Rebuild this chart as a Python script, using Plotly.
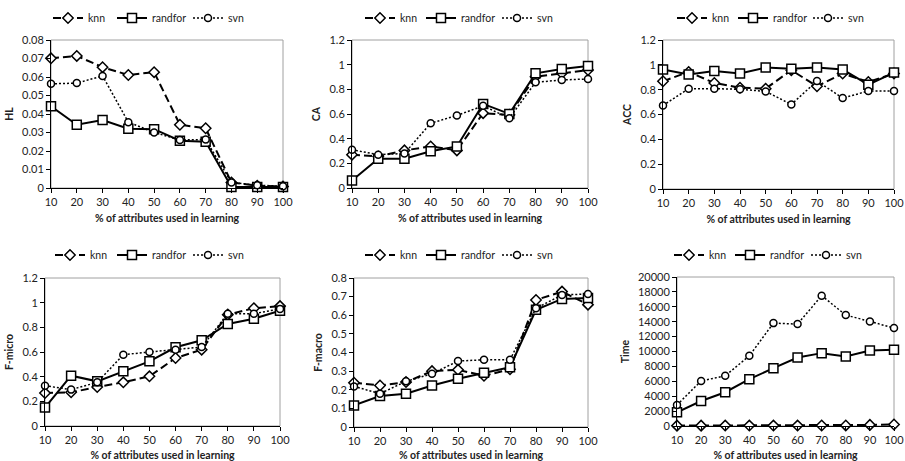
import plotly.graph_objects as go

pct = [10, 20, 30, 40, 50, 60, 70, 80, 90, 100]

hl_knn = [0.0701, 0.0714, 0.0653, 0.0611, 0.0626, 0.0342, 0.0323, 0.003, 0.0012, 0.0008]
hl_randfor = [0.0442, 0.0342, 0.0367, 0.0320, 0.0318, 0.0256, 0.0250, 0.0006, 0.0005, 0.0005]
hl_svn = [0.0563, 0.0567, 0.0606, 0.0356, 0.0300, 0.0260, 0.0262, 0.0030, 0.0015, 0.0010]

ca_knn = [0.27, 0.256, 0.305, 0.337, 0.305, 0.607, 0.593, 0.903, 0.93, 0.957]
ca_randfor = [0.06, 0.237, 0.237, 0.298, 0.337, 0.682, 0.601, 0.93, 0.965, 0.989]
ca_svn = [0.31, 0.27, 0.28, 0.525, 0.588, 0.666, 0.566, 0.857, 0.876, 0.884]

acc_knn = [0.868, 0.943, 0.854, 0.816, 0.808, 0.957, 0.827, 0.93, 0.862, 0.93]
acc_randfor = [0.962, 0.922, 0.951, 0.93, 0.978, 0.968, 0.978, 0.962, 0.84, 0.938]
acc_svn = [0.673, 0.808, 0.808, 0.803, 0.786, 0.681, 0.87, 0.732, 0.789, 0.789]

fmi_knn = [0.267, 0.273, 0.316, 0.354, 0.403, 0.551, 0.619, 0.903, 0.955, 0.972]
fmi_randfor = [0.15, 0.408, 0.362, 0.443, 0.524, 0.638, 0.695, 0.827, 0.87, 0.935]
fmi_svn = [0.327, 0.295, 0.354, 0.578, 0.6, 0.619, 0.64, 0.911, 0.911, 0.949]

fma_knn = [0.2375, 0.223, 0.241, 0.30, 0.307, 0.275, 0.31, 0.682, 0.727, 0.657]
fma_randfor = [0.116, 0.166, 0.179, 0.223, 0.259, 0.291, 0.321, 0.629, 0.6875, 0.693]
fma_svn = [0.218, 0.179, 0.245, 0.286, 0.354, 0.361, 0.361, 0.6375, 0.709, 0.714]

time_knn = [50, 50, 60, 60, 60, 60, 70, 80, 150, 200]
time_randfor = [1840, 3360, 4530, 6280, 7760, 9190, 9780, 9330, 10130, 10220]
time_svn = [2830, 6050, 6730, 9420, 13810, 13680, 17490, 14890, 14040, 13140]

panels = [
    ("HL", hl_knn, hl_randfor, hl_svn, [0, 0.08], 0.01),
    ("CA", ca_knn, ca_randfor, ca_svn, [0, 1.2], 0.2),
    ("ACC", acc_knn, acc_randfor, acc_svn, [0, 1.2], 0.2),
    ("F-micro", fmi_knn, fmi_randfor, fmi_svn, [0, 1.2], 0.2),
    ("F-macro", fma_knn, fma_randfor, fma_svn, [0, 0.8], 0.1),
    ("Time", time_knn, time_randfor, time_svn, [0, 20000], 2000),
]

W, H = 905, 461
# plot-area pixel boxes (left, right, top, bottom)
boxes = [
    (51, 283, 40, 188),
    (352, 588, 40, 188),
    (663, 894, 40, 189),
    (45, 280, 278, 426),
    (354, 588, 278, 427),
    (677, 894, 277, 426),
]
# legend entry line-start x positions per panel, and legend row y
legend_x = [
    (53, 117, 193),
    (365, 426, 502),
    (677, 738, 813),
    (55, 117, 193),
    (365, 426, 502),
    (674, 735, 811),
]
legend_y = [18, 18, 18, 255, 255, 255]

FONT = "Lato, 'Open Sans', sans-serif"
fig = go.Figure()
shapes = []

styles = [
    ("knn", dict(color="black", width=2, dash="8px,4px"), dict(symbol="diamond", size=8)),
    ("randfor", dict(color="black", width=2), dict(symbol="square", size=9)),
    ("svn", dict(color="black", width=1.5, dash="2px,2px"), dict(symbol="circle", size=7)),
]

for i, (name, k, r, s, yr, dt) in enumerate(panels):
    idx = i + 1
    xa = "x" if idx == 1 else f"x{idx}"
    ya = "y" if idx == 1 else f"y{idx}"
    for j, ((sname, line, mk), vals) in enumerate(zip(styles, [k, r, s])):
        n = i * 3 + j + 1
        lg = "legend" if n == 1 else f"legend{n}"
        fig.add_trace(go.Scatter(
            x=pct, y=vals, name=sname, mode="lines+markers",
            line=line, showlegend=True,
            marker=dict(symbol=mk["symbol"], size=mk["size"], color="white",
                        line=dict(color="black", width=1.5)),
            xaxis=xa, yaxis=ya, legend=lg, cliponaxis=False,
        ))
        fig.layout[lg] = dict(
            orientation="h", x=(legend_x[i][j] - 5) / W, xanchor="left",
            y=1 - legend_y[i] / H, yanchor="middle", xref="paper", yref="paper",
            font=dict(family=FONT, size=10.5, color="#222"),
            bgcolor="rgba(0,0,0,0)", itemwidth=30, visible=True,
        )
    l, rgt, t, b = boxes[i]
    xdom = [l / W, rgt / W]
    ydom = [1 - b / H, 1 - t / H]
    axis_common = dict(showgrid=False, zeroline=False, showline=True,
                       linecolor="black", linewidth=1, ticks="outside",
                       ticklen=4, tickcolor="black", automargin=False,
                       ticklabeloverflow="allow",
                       tickfont=dict(family=FONT, size=11, color="#222"))
    fig.layout[f"xaxis{'' if idx == 1 else idx}"] = dict(
        domain=xdom, anchor=ya, range=[10, 100], tickmode="array",
        tickvals=pct, ticktext=[str(p) for p in pct],
        title=dict(text="<b>% of attributes used in learning</b>",
                   font=dict(family=FONT, size=10.5, color="#222"), standoff=7),
        **axis_common)
    yaxis = dict(domain=ydom, anchor=xa, range=yr, dtick=dt, tick0=0,
                 title=dict(text=f"<b>{name}</b>",
                            font=dict(family=FONT, size=10.5, color="#222"),
                            standoff=6),
                 **axis_common)
    if name == "HL":
        yaxis["tickvals"] = [0, 0.01, 0.02, 0.03, 0.04, 0.05, 0.06, 0.07, 0.08]
        yaxis["ticktext"] = ["0", "0.01", "0.02", "0.03", "0.04", "0.05", "0.06", "0.07", "0.08"]
    if name == "Time":
        yaxis["tickformat"] = "d"
    fig.layout[f"yaxis{'' if idx == 1 else idx}"] = yaxis
    # light grey frame around plot area
    shapes.append(dict(type="rect", xref=f"{xa} domain", yref=f"{ya} domain",
                       x0=0, x1=1, y0=0, y1=1,
                       line=dict(color="#a0a0a0", width=1), layer="below"))

fig.update_layout(
    width=W, height=H, margin=dict(l=0, r=0, t=0, b=0, autoexpand=False),
    paper_bgcolor="white", plot_bgcolor="white", showlegend=True,
    shapes=shapes, font=dict(family=FONT, size=11, color="#222"),
)

fig.write_html("out.html")
